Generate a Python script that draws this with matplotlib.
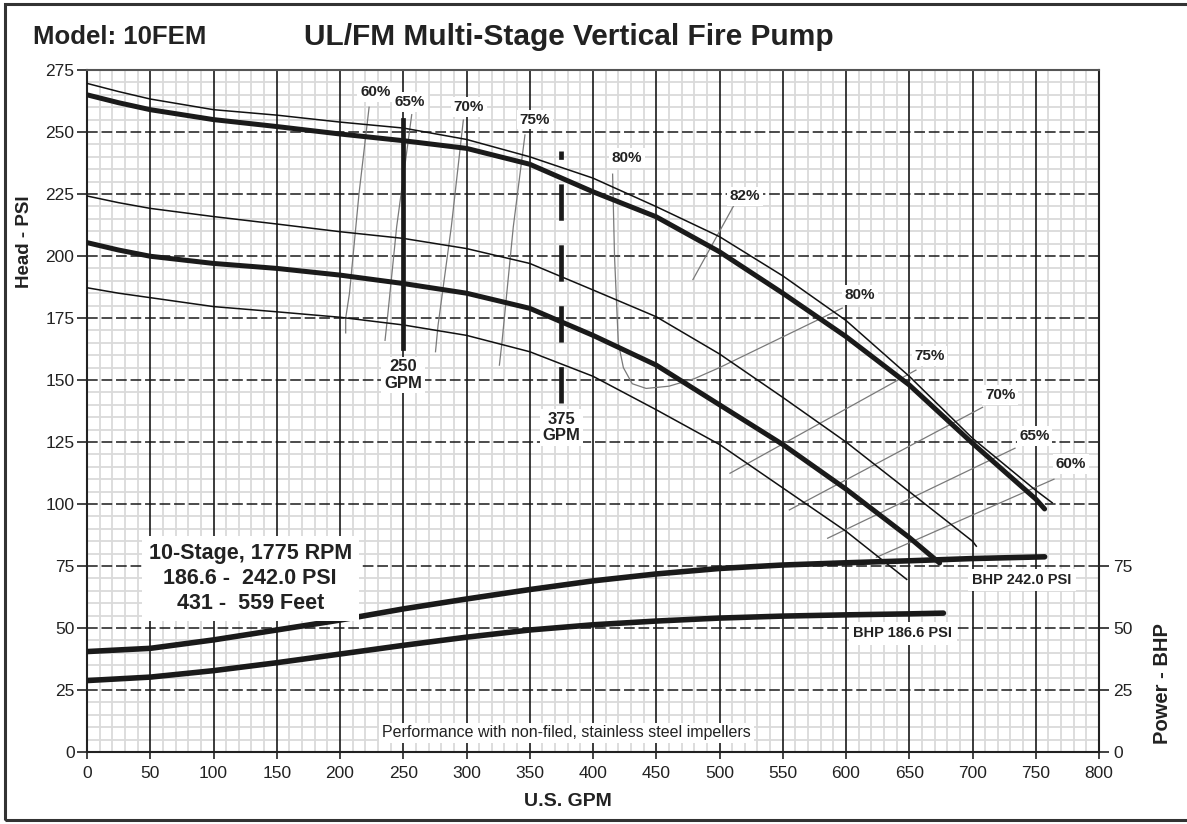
import matplotlib
matplotlib.use("Agg")
import matplotlib.pyplot as plt
from matplotlib.patches import Rectangle
import numpy as np

plt.rcParams['font.family'] = ['Liberation Sans', 'DejaVu Sans']

# Head curves (U.S. GPM vs PSI)
top_thin_gpm = [0, 25, 50, 100, 150, 200, 250, 300, 350, 400, 450, 500, 550, 600, 650, 700, 750, 763]
top_thin_psi = [269.6, 266.3, 263.3, 259, 256.8, 254, 251.6, 247, 240, 231.4, 219.9, 207.8, 192, 174, 151.5, 126.5, 105.5, 100.5]

head_242_gpm = [0, 25, 50, 100, 150, 200, 250, 300, 350, 400, 450, 500, 550, 600, 650, 700, 750, 757]
head_242_psi = [265, 261.8, 259, 255, 252.2, 249.2, 246.5, 243.4, 237, 225.9, 215.8, 201.7, 185, 167.5, 148, 124.5, 102, 98]

mid_thin_gpm = [0, 25, 50, 100, 150, 200, 250, 300, 350, 400, 450, 500, 550, 600, 650, 700, 703]
mid_thin_psi = [224.2, 221.5, 219.2, 215.9, 212.9, 209.8, 207.1, 203, 197, 186.3, 175.5, 160.5, 143, 125, 105, 85, 83]

head_186_gpm = [0, 25, 50, 100, 150, 200, 250, 300, 350, 400, 450, 500, 550, 600, 650, 674]
head_186_psi = [205.4, 202.4, 199.9, 197, 195, 192.3, 188.9, 185, 178.9, 168, 156, 140, 124, 106, 86.5, 76.2]

low_thin_gpm = [0, 25, 50, 100, 150, 200, 250, 300, 350, 400, 450, 500, 550, 600, 648]
low_thin_psi = [187.2, 185, 183.2, 179.6, 177.5, 175.3, 172.2, 168, 161.4, 151.5, 138, 124, 106.5, 89, 69.6]

# Brake horsepower curves
bhp_242_gpm = [0, 50, 100, 150, 200, 250, 300, 350, 400, 450, 500, 550, 600, 650, 700, 757]
bhp_242 = [40.5, 41.8, 45.2, 49.2, 53.2, 57.7, 61.7, 65.5, 69, 71.8, 74, 75.4, 76.3, 77.1, 78, 78.7]
bhp_186_gpm = [0, 50, 100, 150, 200, 250, 300, 350, 400, 450, 500, 550, 600, 650, 677]
bhp_186 = [28.8, 30.2, 32.8, 36, 39.5, 43, 46.3, 49.2, 51.3, 52.8, 54, 54.8, 55.3, 55.7, 56]

# Efficiency lines: (label, label position, line points)
eff_lines = [
    ("60%", (228, 266), [(223, 260), (215, 225), (207.5, 185), (204.5, 175), (204.5, 169)]),
    ("65%", (255, 262), [(256.7, 257), (244.8, 211.8), (237.5, 175), (235.6, 166)]),
    ("70%", (302, 260), [(297.5, 254.8), (288, 211.8), (277.5, 172), (275.5, 161.4)]),
    ("75%", (354, 255), [(346.2, 248.8), (337, 211.8), (328, 165), (326, 156)]),
    ("80%", (427, 239.6), [(415.5, 233), (417, 200), (420, 165), (424, 155), (431, 148.5),
                           (442, 146.6), (460, 147.5), (480, 150.5), (500, 155), (597, 179)]),
    ("82%", (520, 224), [(479, 190.5), (512, 221)]),
    ("80%", (611, 184.3), []),
    ("75%", (666, 159.7), [(508.3, 112.4), (655.3, 154)]),
    ("70%", (722, 144), [(555.2, 97.6), (708, 139)]),
    ("65%", (749, 127.4), [(585.5, 86.2), (733.6, 122.5)]),
    ("60%", (778, 116.1), [(624, 78.5), (764.4, 110)]),
]

x_major = np.arange(0, 801, 50)
y_major = np.arange(0, 276, 25)
x_minor = [v for v in range(0, 801, 10) if v % 50]
y_minor = [v for v in range(0, 276, 5) if v % 25]

fig = plt.figure(figsize=(11.87, 8.24), dpi=100)
ax = fig.add_axes([87 / 1187, 1 - 752 / 824, (1099 - 87) / 1187, (752 - 70) / 824])

ax.set_xlim(0, 800)
ax.set_ylim(0, 275)
ax.set_xticks(x_major)
ax.set_yticks(y_major)
ax.set_xticks(x_minor, minor=True)
ax.set_yticks(y_minor, minor=True)
ax.grid(which='minor', color='#dadada', lw=1.3, zorder=0)
ax.set_axisbelow(True)
for xv in x_major:
    ax.axvline(xv, color='#1a1a1a', lw=1.2, zorder=1)
for yv in y_major:
    ax.axhline(yv, color='#1a1a1a', lw=1.1, ls=(0, (7, 2.5)), zorder=1)

ax.tick_params(which='minor', length=0)
ax.tick_params(axis='x', which='major', length=5, width=1.2, pad=5, labelsize=12.5, colors='#222222')
ax.tick_params(axis='y', which='major', length=7, width=1.2, pad=2, labelsize=12.5, colors='#222222')
for s in ax.spines.values():
    s.set_color('#222222')
    s.set_linewidth(1.5)
ax.spines['top'].set_color('#555555')

ax2 = ax.twinx()
ax2.set_ylim(0, 275)
ax2.set_yticks([0, 25, 50, 75])
ax2.tick_params(axis='y', length=7, width=1.2, pad=3, labelsize=12.5, colors='#222222')
for s in ax2.spines.values():
    s.set_visible(False)

# head curves
for xs, ys in [(top_thin_gpm, top_thin_psi), (mid_thin_gpm, mid_thin_psi), (low_thin_gpm, low_thin_psi)]:
    ax.plot(xs, ys, color='#111111', lw=1.1, zorder=3)
for xs, ys in [(head_242_gpm, head_242_psi), (head_186_gpm, head_186_psi)]:
    ax.plot(xs, ys, color='#1a1a1a', lw=3.6, zorder=3, solid_capstyle='round')
for xs, ys in [(bhp_242_gpm, bhp_242), (bhp_186_gpm, bhp_186)]:
    ax.plot(xs, ys, color='#1a1a1a', lw=4.0, zorder=3, solid_capstyle='round')

# efficiency lines and labels
for lab, (lx, ly), pts in eff_lines:
    if pts:
        px, py = zip(*pts)
        ax.plot(px, py, color='#7a7a7a', lw=0.9, zorder=2)
    ax.text(lx, ly, lab, ha='center', va='center', fontsize=11, fontweight='bold',
            color='#222222', zorder=5,
            bbox=dict(facecolor='white', edgecolor='none', pad=2))

# rated flow markers
ax.plot([250, 250], [163, 255], color='#1a1a1a', lw=3.4, zorder=4)
ax.plot([375, 375], [140.6, 242.5], color='#1a1a1a', lw=3.4, zorder=4,
        ls=(0, (7.7, 5.2)), dash_capstyle='butt')
ax.text(250, 152, "250\nGPM", ha='center', va='center', fontsize=12, fontweight='bold',
        color='#222222', linespacing=1.1, zorder=5,
        bbox=dict(facecolor='white', edgecolor='none', pad=2))
ax.text(375, 131, "375\nGPM", ha='center', va='center', fontsize=12, fontweight='bold',
        color='#222222', linespacing=1.1, zorder=5,
        bbox=dict(facecolor='white', edgecolor='none', pad=2))

ax.text(129, 70, "10-Stage, 1775 RPM\n186.6 -  242.0 PSI\n431 -  559 Feet", ha='center',
        va='center', fontsize=15.5, fontweight='bold', color='#222222', linespacing=1.25,
        zorder=5, bbox=dict(facecolor='white', edgecolor='none', pad=5))
ax.text(739, 69.4, "BHP 242.0 PSI", ha='center', va='center', fontsize=10.5, fontweight='bold',
        color='#222222', zorder=5, bbox=dict(facecolor='white', edgecolor='none', pad=3))
ax.text(645, 47.8, "BHP 186.6 PSI", ha='center', va='center', fontsize=10.5, fontweight='bold',
        color='#222222', zorder=5, bbox=dict(facecolor='white', edgecolor='none', pad=3))
ax.text(379, 7.7, "Performance with non-filed, stainless steel impellers", ha='center',
        va='center', fontsize=11.5, color='#222222', zorder=5,
        bbox=dict(facecolor='white', edgecolor='none', pad=2))

# titles and axis labels
fig.text(33 / 1187, 1 - 37 / 824, "Model: 10FEM", ha='left', va='center', fontsize=18.5,
         fontweight='bold', color='#222222')
fig.text(569 / 1187, 1 - 37 / 824, "UL/FM Multi-Stage Vertical Fire Pump", ha='center',
         va='center', fontsize=21.5, fontweight='bold', color='#222222')
fig.text(25 / 1187, 1 - 242 / 824, "Head - PSI", rotation=90, ha='center', va='center',
         fontsize=13.5, fontweight='bold', color='#222222')
fig.text(1163 / 1187, 1 - 683 / 824, "Power - BHP", rotation=90, ha='center', va='center',
         fontsize=14.5, fontweight='bold', color='#222222')
fig.text(568 / 1187, 1 - 801 / 824, "U.S. GPM", ha='center', va='center', fontsize=14,
         fontweight='bold', color='#222222')

# outer frame
fig.patches.append(Rectangle((5 / 1187, 4 / 824), 1185 / 1187, 816 / 824, fill=False,
                             edgecolor='#333333', lw=2.2, transform=fig.transFigure))

fig.savefig("out.png", dpi=100)
